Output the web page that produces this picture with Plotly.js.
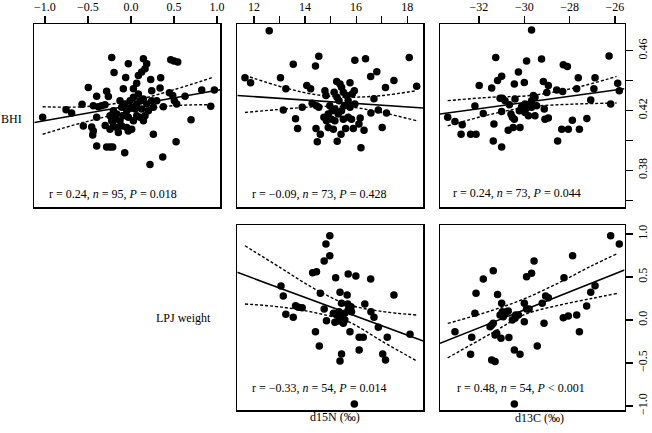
<!DOCTYPE html>
<html>
<head>
<meta charset="utf-8">
<script src="https://cdn.plot.ly/plotly-3.0.1.min.js"></script>
<style>html,body{margin:0;padding:0;background:#fff;}#chart{width:652px;height:433px;}</style>
</head>
<body>
<div id="chart"></div>
<script>
// Panel 1: LPJ weight (x) vs BHI (y)
const lpjBhi_x = [-1.027,-0.755,-0.690,-0.569,-0.496,-0.399,-0.283,-0.263,-0.224,-0.197,
  -0.062,-0.031,0.144,0.183,0.163,0.124,0.086,0.229,0.345,0.462,
  0.500,0.543,-0.089,0.028,0.066,0.241,0.338,0.446,0.485,0.504,
  0.531,0.628,0.822,0.969,0.927,0.376,0.698,-0.438,-0.379,-0.341,
  -0.302,-0.399,-0.457,-0.438,-0.445,-0.554,-0.399,-0.283,-0.244,-0.213,
  -0.073,-0.244,-0.205,-0.166,-0.147,-0.050,-0.031,0.008,0.260,0.524,
  0.369,0.221,-0.205,-0.166,-0.128,-0.108,-0.069,-0.050,-0.031,-0.011,
  0.008,0.028,0.047,0.066,0.086,0.105,0.124,0.144,0.163,0.183,
  0.202,0.241,0.260,0.299,-0.185,-0.128,-0.089,-0.244,-0.224,-0.108,
  0.028,0.066,0.105,0.144,-0.300];
const lpjBhi_y = [0.4155,0.4206,0.4184,0.4242,0.4355,0.4296,0.4330,0.4294,0.4555,0.4456,
  0.4422,0.4514,0.4548,0.4514,0.4481,0.4458,0.4436,0.4409,0.4420,0.4541,
  0.4532,0.4526,0.4346,0.4346,0.4384,0.4334,0.4352,0.4319,0.4301,0.4267,
  0.4244,0.4296,0.4339,0.4339,0.4229,0.4226,0.4139,0.4233,0.4226,0.4233,
  0.4240,0.4155,0.4091,0.4064,0.4037,0.4098,0.3963,0.3956,0.3956,0.3956,
  0.3918,0.4076,0.4098,0.4087,0.4053,0.4087,0.4064,0.4076,0.4042,0.3992,
  0.3889,0.3839,0.4199,0.4177,0.4267,0.4222,0.4244,0.4199,0.4155,0.4267,
  0.4222,0.4289,0.4211,0.4244,0.4312,0.4267,0.4211,0.4278,0.4166,0.4244,
  0.4199,0.4267,0.4222,0.4267,0.4143,0.4132,0.4166,0.4166,0.4132,0.4098,
  0.4132,0.4166,0.4155,0.4132,0.4100];
const lpjBhi_fitX = [-1.124, 1.038];
const lpjBhi_fitY = [0.4121, 0.4340];
const lpjBhi_ciX = [-1.027, -0.554, 0.028, 0.492, 0.938];
const lpjBhi_ciHi = [0.4226, 0.4226, 0.4267, 0.4339, 0.4420];
const lpjBhi_ciLo = [0.4042, 0.4121, 0.4199, 0.4233, 0.4240];

// Panel 2: d15N (x) vs BHI (y)
const nBhi_x = [12.60,11.65,11.87,13.04,13.25,13.54,14.41,14.54,14.07,14.22,
  13.15,13.63,13.71,13.89,14.28,14.45,14.54,14.43,14.60,14.48,
  14.78,14.82,15.24,15.37,15.43,15.76,15.95,16.37,16.57,16.81,
  17.48,17.15,18.08,18.37,16.70,16.87,16.58,17.19,17.02,16.31,
  16.19,16.16,16.11,15.95,15.26,15.41,15.59,15.82,15.89,15.14,
  15.25,15.33,15.50,15.63,15.69,15.85,15.93,14.97,15.07,14.74,
  14.84,14.91,15.17,15.30,15.43,15.54,15.69,15.76,15.04,15.17,
  15.50,14.91,15.11];
const nBhi_y = [0.4735,0.4420,0.4386,0.4420,0.4346,0.4510,0.4499,0.4564,0.4368,0.4346,
  0.4204,0.4145,0.4080,0.4222,0.4249,0.4233,0.4222,0.4080,0.4042,0.3992,
  0.4334,0.4301,0.4395,0.4379,0.4357,0.4386,0.4537,0.4548,0.4429,0.4460,
  0.4402,0.4355,0.4555,0.4364,0.4280,0.4204,0.4184,0.4184,0.4087,0.4069,
  0.3952,0.4150,0.4110,0.4244,0.3995,0.4042,0.4080,0.4143,0.4080,0.4323,
  0.4289,0.4267,0.4323,0.4301,0.4267,0.4312,0.4334,0.4233,0.4199,0.4155,
  0.4132,0.4177,0.4211,0.4177,0.4199,0.4233,0.4155,0.4222,0.4143,0.4132,
  0.4143,0.4087,0.4076];
const nBhi_fitX = [11.35, 18.63];
const nBhi_fitY = [0.4301, 0.4218];
const nBhi_ciX = [11.65, 13.21, 14.39, 15.69, 17.00, 18.37];
const nBhi_ciHi = [0.4436, 0.4353, 0.4308, 0.4290, 0.4301, 0.4334];
const nBhi_ciLo = [0.4188, 0.4211, 0.4226, 0.4226, 0.4188, 0.4132];

// Panel 3: d13C (x) vs BHI (y)
const cBhi_x = [-33.38,-33.06,-32.74,-32.79,-32.37,-32.13,-32.18,-31.99,-31.81,-31.44,
  -31.34,-31.26,-31.18,-31.00,-31.07,-30.97,-31.37,-31.00,-31.00,-30.85,
  -30.71,-30.49,-30.19,-30.44,-30.26,-30.41,-30.66,-30.59,-30.53,-30.44,
  -30.00,-29.90,-29.68,-30.04,-29.97,-29.90,-29.82,-29.75,-29.68,-29.60,
  -29.53,-29.53,-29.46,-29.97,-29.24,-29.16,-28.94,-29.12,-29.09,-28.94,
  -29.01,-28.57,-28.53,-28.35,-28.06,-28.28,-28.10,-28.31,-27.88,-27.69,
  -27.62,-27.57,-27.24,-27.07,-26.93,-26.88,-26.26,-26.19,-25.88,-25.81,
  -30.12,-29.68,-30.22];
const cBhi_y = [0.4155,0.4127,0.4105,0.4042,0.4042,0.4042,0.4231,0.4368,0.4181,0.4352,
  0.4110,0.4555,0.4402,0.4431,0.4283,0.4283,0.3997,0.3956,0.4195,0.4267,
  0.4069,0.4087,0.4087,0.4379,0.4458,0.4278,0.4240,0.4177,0.4155,0.4143,
  0.4388,0.4532,0.4740,0.4211,0.4188,0.4217,0.4166,0.4244,0.4267,0.4301,
  0.4289,0.4166,0.4233,0.4244,0.4546,0.4395,0.4368,0.4211,0.4143,0.4150,
  0.4321,0.4339,0.3997,0.4076,0.4076,0.4508,0.4496,0.4328,0.4136,0.4346,
  0.4420,0.4076,0.4148,0.4271,0.4346,0.4420,0.4566,0.4244,0.4384,0.4334,
  0.4226,0.4222,0.4199];
const cBhi_fitX = [-33.72, -25.58];
const cBhi_fitY = [0.4177, 0.4346];
const cBhi_ciX = [-33.38, -31.44, -29.75, -27.76, -25.93];
const cBhi_ciHi = [0.4267, 0.4290, 0.4301, 0.4353, 0.4429];
const cBhi_ciLo = [0.4098, 0.4177, 0.4226, 0.4244, 0.4251];

// Panel 4: d15N (x) vs LPJ weight (y)
const nLpj_x = [14.97,14.82,14.97,14.75,14.30,14.45,15.20,15.69,15.99,16.57,
  13.06,13.15,14.60,15.37,15.65,15.43,15.67,15.80,16.34,17.48,
  13.63,13.74,13.89,13.25,13.54,14.75,15.11,15.24,15.33,15.43,
  15.56,15.69,15.82,14.84,15.17,15.33,15.50,15.56,16.58,16.70,
  16.87,15.76,14.41,14.56,15.43,15.37,16.12,16.28,16.12,17.22,
  18.11,17.04,17.15,15.93];
const nLpj_y = [0.981,0.884,0.748,0.686,0.550,0.562,0.492,0.535,0.512,0.477,
  0.395,0.279,0.310,0.322,0.291,0.194,0.186,0.155,0.186,0.291,
  0.167,0.147,0.143,0.066,0.031,0.128,0.078,0.058,0.097,0.039,
  0.078,0.116,0.097,-0.008,-0.027,-0.012,-0.039,0.000,0.097,0.031,
  -0.085,-0.136,-0.136,-0.302,-0.395,-0.477,-0.202,-0.202,-0.349,-0.202,
  -0.167,-0.395,-0.465,-0.977];
const nLpj_fitX = [11.35, 18.63];
const nLpj_fitY = [0.554, -0.244];
const nLpj_ciX = [11.65, 13.08, 14.39, 15.69, 17.00, 18.37];
const nLpj_ciHi = [0.864, 0.600, 0.360, 0.180, 0.100, 0.058];
const nLpj_ciLo = [0.186, 0.150, 0.085, -0.020, -0.245, -0.477];

// Panel 5: d13C (x) vs LPJ weight (y)
const cLpj_x = [-33.06,-32.32,-32.37,-32.18,-32.13,-31.81,-31.37,-31.51,-31.37,-31.29,
  -31.22,-31.44,-31.29,-31.18,-31.00,-30.97,-31.07,-30.93,-31.03,-30.78,
  -30.71,-30.68,-30.53,-30.41,-30.38,-30.44,-30.19,-30.00,-30.00,-29.90,
  -29.90,-29.68,-29.57,-29.79,-29.43,-29.21,-29.13,-29.06,-28.94,-28.25,
  -28.28,-28.06,-27.87,-27.69,-27.57,-27.25,-27.07,-26.88,-26.19,-25.81,
  -30.44,-30.85,-30.26,-31.44];
const cLpj_y = [-0.136,-0.202,-0.399,0.078,0.310,0.477,0.574,-0.078,-0.039,-0.174,
  -0.155,-0.465,-0.484,0.298,0.194,0.097,0.058,0.039,-0.213,0.097,
  0.105,-0.205,0.000,0.019,0.058,-0.349,-0.399,-0.019,0.194,0.128,
  0.504,0.543,0.686,0.128,-0.302,0.194,-0.039,0.279,0.260,0.492,
  0.027,0.047,0.748,0.058,-0.136,0.163,0.322,0.399,0.981,0.884,
  -0.977,0.078,0.058,-0.058];
const cLpj_fitX = [-33.72, -25.58];
const cLpj_fitY = [-0.271, 0.581];
const cLpj_ciX = [-33.38, -31.44, -29.97, -28.50, -27.03, -25.88];
const cLpj_ciHi = [-0.040, 0.110, 0.250, 0.430, 0.630, 0.775];
const cLpj_ciLo = [-0.440, -0.153, 0.065, 0.170, 0.250, 0.310];

// Tick labels and texts
const lpjTicks = [-1, -0.5, 0, 0.5, 1];
const lpjTickText = ['\u22121.0', '\u22120.5', '0.0', '0.5', '1.0'];
const nTicks = [12, 13, 14, 15, 16, 17, 18];
const nTickText = ['12', '', '14', '', '16', '', '18'];
const cTicks = [-32, -30, -28, -26];
const cTickText = ['\u221232', '\u221230', '\u221228', '\u221226'];
const bhiTicks = [0.36, 0.38, 0.40, 0.42, 0.44, 0.46];
const bhiTickText = ['', '0.38', '', '0.42', '', '0.46'];
const statTexts = [
  'r = 0.24, <i>n</i> = 95, <i>P</i> = 0.018',
  'r = \u22120.09, <i>n</i> = 73, <i>P</i> = 0.428',
  'r = 0.24, <i>n</i> = 73, <i>P</i> = 0.044',
  'r = \u22120.33, <i>n</i> = 54, <i>P</i> = 0.014',
  'r = 0.48, <i>n</i> = 54, <i>P</i> &lt; 0.001'
];
const rowLabels = ['BHI', 'LPJ weight'];
const colLabels = ['d15N (\u2030)', 'd13C (\u2030)'];

const FONT = '"Liberation Serif", "Times New Roman", serif';
const W = 652, H = 433;
const px = v => v / W;
const py = v => 1 - v / H;

const panels = [
  {x: lpjBhi_x, y: lpjBhi_y, fx: lpjBhi_fitX, fy: lpjBhi_fitY, cx: lpjBhi_ciX, hi: lpjBhi_ciHi, lo: lpjBhi_ciLo},
  {x: nBhi_x, y: nBhi_y, fx: nBhi_fitX, fy: nBhi_fitY, cx: nBhi_ciX, hi: nBhi_ciHi, lo: nBhi_ciLo},
  {x: cBhi_x, y: cBhi_y, fx: cBhi_fitX, fy: cBhi_fitY, cx: cBhi_ciX, hi: cBhi_ciHi, lo: cBhi_ciLo},
  {x: nLpj_x, y: nLpj_y, fx: nLpj_fitX, fy: nLpj_fitY, cx: nLpj_ciX, hi: nLpj_ciHi, lo: nLpj_ciLo},
  {x: cLpj_x, y: cLpj_y, fx: cLpj_fitX, fy: cLpj_fitY, cx: cLpj_ciX, hi: cLpj_ciHi, lo: cLpj_ciLo}
];

const traces = [];
panels.forEach((p, i) => {
  const xa = i === 0 ? 'x' : 'x' + (i + 1);
  const ya = i === 0 ? 'y' : 'y' + (i + 1);
  const dashLine = {color: '#000', width: 1.4, dash: '3px,2px', shape: 'spline', smoothing: 1};
  traces.push({x: p.cx, y: p.hi, xaxis: xa, yaxis: ya, mode: 'lines', line: dashLine, hoverinfo: 'skip'});
  traces.push({x: p.cx, y: p.lo, xaxis: xa, yaxis: ya, mode: 'lines', line: dashLine, hoverinfo: 'skip'});
  traces.push({x: p.fx, y: p.fy, xaxis: xa, yaxis: ya, mode: 'lines', line: {color: '#000', width: 1.6}, hoverinfo: 'skip'});
  traces.push({x: p.x, y: p.y, xaxis: xa, yaxis: ya, mode: 'markers', marker: {color: '#000', size: 7.5, line: {width: 0}}});
});

const tickFont = {family: FONT, size: 12, color: '#000'};
function baseAxis(domain, range, anchor) {
  return {domain, range, anchor, showgrid: false, zeroline: false, showline: true, mirror: true,
    linecolor: '#000', linewidth: 1.5, ticks: '', showticklabels: false, tickfont: tickFont,
    ticklen: 7, tickwidth: 1.2, tickcolor: '#000', fixedrange: true};
}
const col1 = [px(34.3), px(220.3)];
const col2 = [px(237.3), px(423.3)];
const col3 = [px(440), px(624.5)];
const row1 = [py(207), py(24)];
const row2 = [py(410), py(225)];
const rangeLpj = [-1.124, 1.038];
const rangeN = [11.35, 18.63];
const rangeC = [-33.72, -25.58];
const rangeBhi = [0.3555, 0.478];
const rangeLpjY = [-1.047, 1.105];

const layout = {
  width: W, height: H, showlegend: false,
  margin: {l: 0, r: 0, t: 0, b: 0},
  paper_bgcolor: '#fff', plot_bgcolor: '#fff',
  font: {family: FONT, size: 12, color: '#000'},
  xaxis: Object.assign(baseAxis(col1, rangeLpj, 'y'), {side: 'top', ticks: 'outside', showticklabels: true, tickvals: lpjTicks, ticktext: lpjTickText}),
  yaxis: baseAxis(row1, rangeBhi, 'x'),
  xaxis2: Object.assign(baseAxis(col2, rangeN, 'y2'), {side: 'top', ticks: 'outside', showticklabels: true, tickvals: nTicks, ticktext: nTickText}),
  yaxis2: baseAxis(row1, rangeBhi, 'x2'),
  xaxis3: Object.assign(baseAxis(col3, rangeC, 'y3'), {side: 'top', ticks: 'outside', showticklabels: true, tickvals: cTicks, ticktext: cTickText}),
  yaxis3: Object.assign(baseAxis(row1, rangeBhi, 'x3'), {side: 'right', ticks: 'outside', showticklabels: true, tickvals: bhiTicks, ticktext: bhiTickText, tickangle: -90}),
  xaxis4: baseAxis(col2, rangeN, 'y4'),
  yaxis4: baseAxis(row2, rangeLpjY, 'x4'),
  xaxis5: baseAxis(col3, rangeC, 'y5'),
  yaxis5: Object.assign(baseAxis(row2, rangeLpjY, 'x5'), {side: 'right', ticks: 'outside', showticklabels: true, tickvals: lpjTicks, ticktext: lpjTickText, tickangle: -90}),
  annotations: [
    {text: statTexts[0], x: px(47), y: py(194), xanchor: 'left'},
    {text: statTexts[1], x: px(250), y: py(194), xanchor: 'left'},
    {text: statTexts[2], x: px(451), y: py(193), xanchor: 'left'},
    {text: statTexts[3], x: px(250), y: py(388), xanchor: 'left'},
    {text: statTexts[4], x: px(455), y: py(388), xanchor: 'left'},
    {text: rowLabels[0], x: px(11.5), y: py(119), xanchor: 'center'},
    {text: rowLabels[1], x: px(183.5), y: py(318), xanchor: 'center'},
    {text: colLabels[0], x: px(335), y: py(417), xanchor: 'center'},
    {text: colLabels[1], x: px(539), y: py(418), xanchor: 'center'}
  ].map(a => Object.assign({xref: 'paper', yref: 'paper', yanchor: 'middle', showarrow: false,
    font: {family: FONT, size: 12, color: '#000'}}, a))
};

Plotly.newPlot('chart', traces, layout, {displayModeBar: false, staticPlot: true});
</script>
</body>
</html>
